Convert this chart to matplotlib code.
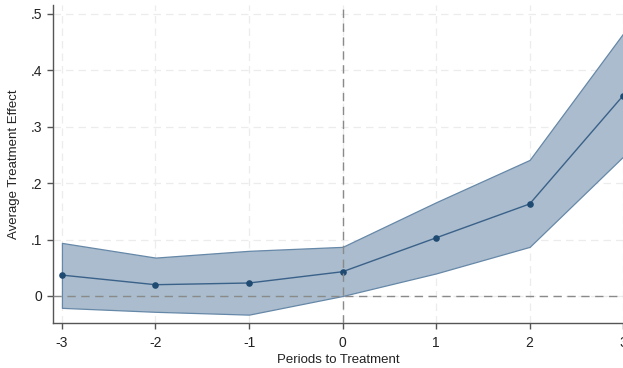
import matplotlib.pyplot as plt
import numpy as np

periods = np.array([-3, -2, -1, 0, 1, 2, 3])
effect = np.array([0.037, 0.020, 0.023, 0.043, 0.103, 0.163, 0.355])
ci_low = np.array([-0.021, -0.028, -0.033, 0.000, 0.040, 0.087, 0.247])
ci_high = np.array([0.094, 0.068, 0.080, 0.087, 0.166, 0.241, 0.465])

y_ticks = [0, 0.1, 0.2, 0.3, 0.4, 0.5]
y_labels = ["0", ".1", ".2", ".3", ".4", ".5"]

plt.rcParams['font.family'] = ['Liberation Sans', 'DejaVu Sans']
plt.rcParams['axes.unicode_minus'] = False

fig = plt.figure(figsize=(6.23, 3.68), dpi=100)
ax = fig.add_axes([0.085, 0.122, 0.917, 0.864])

ax.fill_between(periods, ci_low, ci_high, facecolor="#aabccd",
                edgecolor="#6688a8", linewidth=0.9, zorder=2)
ax.plot(periods, effect, color="#3a6189", linewidth=1.0, zorder=3)
ax.scatter(periods, effect, color="#1f4a72", s=14, zorder=4)

ax.axvline(0, color="#8a8a8a", linestyle=(0, (6, 4)), linewidth=1.0, zorder=5)
ax.axhline(0, color="#8a8a8a", linestyle=(0, (6, 4)), linewidth=1.0, zorder=5)

ax.set_xlim(-3.096, 3.011)
ax.set_ylim(-0.048, 0.515)
ax.set_xticks(periods)
ax.set_xticklabels([str(p) for p in periods])
ax.set_yticks(y_ticks)
ax.set_yticklabels(y_labels)
ax.grid(True, color="#ececec", linestyle=(0, (6, 4)), linewidth=0.9, zorder=0)
ax.set_axisbelow(True)

for side in ["top", "right"]:
    ax.spines[side].set_visible(False)
for side in ["left", "bottom"]:
    ax.spines[side].set_color("#555555")
    ax.spines[side].set_linewidth(1.0)
ax.tick_params(axis="both", colors="#555555", labelcolor="#222222",
               labelsize=10, length=4, width=1.0)
ax.tick_params(axis="x", pad=5)

ax.set_xlabel("Periods to Treatment", fontsize=9.5, color="#222222", labelpad=3)
ax.set_ylabel("Average Treatment Effect", fontsize=9.5, color="#222222", labelpad=8)

fig.savefig("out.png", dpi=100)
